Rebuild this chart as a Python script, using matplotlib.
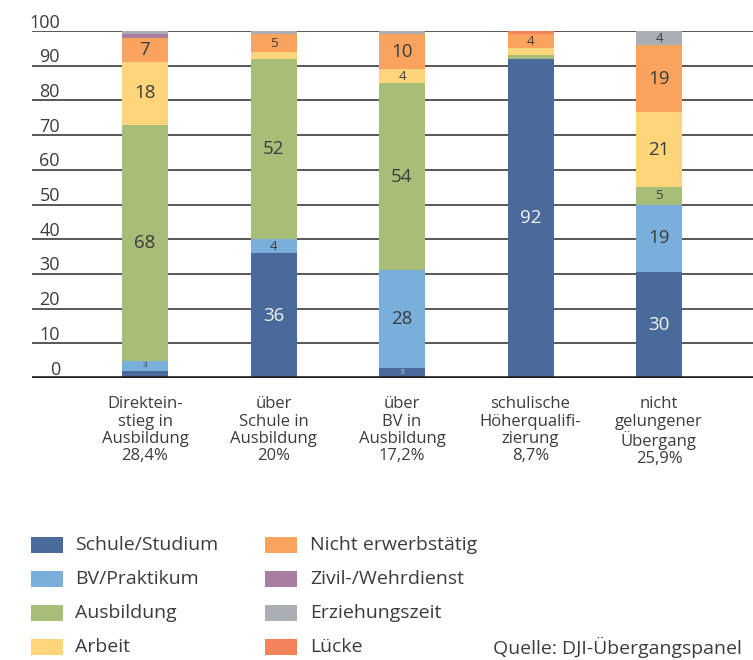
import numpy as np
import matplotlib
matplotlib.use("Agg")
import matplotlib.pyplot as plt
from matplotlib.patches import Rectangle
from matplotlib.transforms import blended_transform_factory

plt.rcParams['font.family'] = ['Open Sans', 'DejaVu Sans']

categories = ["Direktein-\nstieg in\nAusbildung\n28,4%",
              "über\nSchule in\nAusbildung\n20%",
              "über\nBV in\nAusbildung\n17,2%",
              "schulische\nHöherqualifi-\nzierung\n8,7%",
              "nicht\ngelungener\nÜbergang\n25,9%"]

series_names = ["Schule/Studium", "BV/Praktikum", "Ausbildung", "Arbeit",
                "Nicht erwerbstätig", "Zivil-/Wehrdienst", "Erziehungszeit", "Lücke"]

schule = [2, 36, 3, 92, 30]
bv = [3, 4, 28, 0, 19]
ausbildung = [68, 52, 54, 1, 5]
arbeit = [18, 2, 4, 2, 21]
nicht_erwerb = [7, 5, 10, 4, 19]
zivil = [1, 0, 0, 0, 0]
erziehung = [1, 1, 1, 0, 4]
luecke = [0, 0, 0, 1, 0]

colors = ["#4b6a9c", "#7aaedb", "#a8bd78", "#ffd579",
          "#f9a35f", "#a97da0", "#a9afb5", "#f2835a"]

yticks = [0, 10, 20, 30, 40, 50, 60, 70, 80, 90, 100]

data = np.array([schule, bv, ausbildung, arbeit, nicht_erwerb, zivil, erziehung, luecke], dtype=float)
totals = data.sum(axis=0)
shares = data / totals * 100.0

W, H = 753, 660
fig = plt.figure(figsize=(W / 100, H / 100), dpi=100)
ax_left, ax_right = 32, 753
ax_bottom, ax_top = 378, 31
ax = fig.add_axes([ax_left / W, 1 - ax_bottom / H, (ax_right - ax_left) / W, (ax_bottom - ax_top) / H])

x = np.arange(len(categories))
spacing = 128.5
c0 = 145
xl = -(c0 - ax_left) / spacing
xr = (len(categories) - 1) + (ax_right - (c0 + spacing * (len(categories) - 1))) / spacing
ax.set_xlim(xl, xr)
ax.set_ylim(0, 100)
bw = 46 / spacing

txtc = "#3c3c3c"

for v in yticks:
    if v == 0:
        ax.axhline(v, color="#1e1e1e", lw=2.6, zorder=3)
    else:
        ax.axhline(v, color="#4a4a4a", lw=1.3, zorder=0)

bottom = np.zeros(len(categories))
for i, name in enumerate(series_names):
    vals = shares[i]
    ax.bar(x, vals, bw, bottom=bottom, color=colors[i], zorder=2, linewidth=0)
    for j in range(len(categories)):
        raw = data[i, j]
        if raw >= 3:
            if raw <= 3:
                fs = 6
            elif raw <= 5:
                fs = 9.5
            else:
                fs = 13.5
            tc = "#f2f2f2" if i == 0 else txtc
            if i == 0 and raw <= 3:
                tc = "#c8d4e6"
            ax.text(x[j], bottom[j] + vals[j] / 2, f"{int(raw)}", ha="center", va="center",
                    fontsize=fs, color=tc, zorder=4)
    bottom += vals

for s in ax.spines.values():
    s.set_visible(False)
ax.set_xticks([])
ax.set_yticks([])

trans = blended_transform_factory(ax.transAxes, ax.transData)
for v in yticks:
    ax.text((60 - ax_left) / (ax_right - ax_left), v + 1.0, str(v), transform=trans,
            ha="right", va="baseline", fontsize=13, color=txtc)

for j, lab in enumerate(categories):
    ax.text(x[j], -5.3, lab, ha="center", va="top", fontsize=12, color=txtc,
            linespacing=1.1, transform=ax.transData)

# legend
rows = [545, 579, 613, 647]
for i, name in enumerate(series_names):
    col = i // 4
    row = i % 4
    px = 31 if col == 0 else 265
    tx = 75 if col == 0 else 310
    py = rows[row]
    fig.add_artist(Rectangle((px / W, 1 - (py + 8) / H), 32 / W, 16 / H,
                             transform=fig.transFigure, color=colors[i], lw=0))
    fig.text(tx / W, 1 - py / H, name, ha="left", va="center", fontsize=14, color=txtc)

fig.text(742 / W, 1 - 647 / H, "Quelle: DJI-Übergangspanel", ha="right", va="center",
         fontsize=14, color=txtc)

fig.savefig("out.png", dpi=100)
